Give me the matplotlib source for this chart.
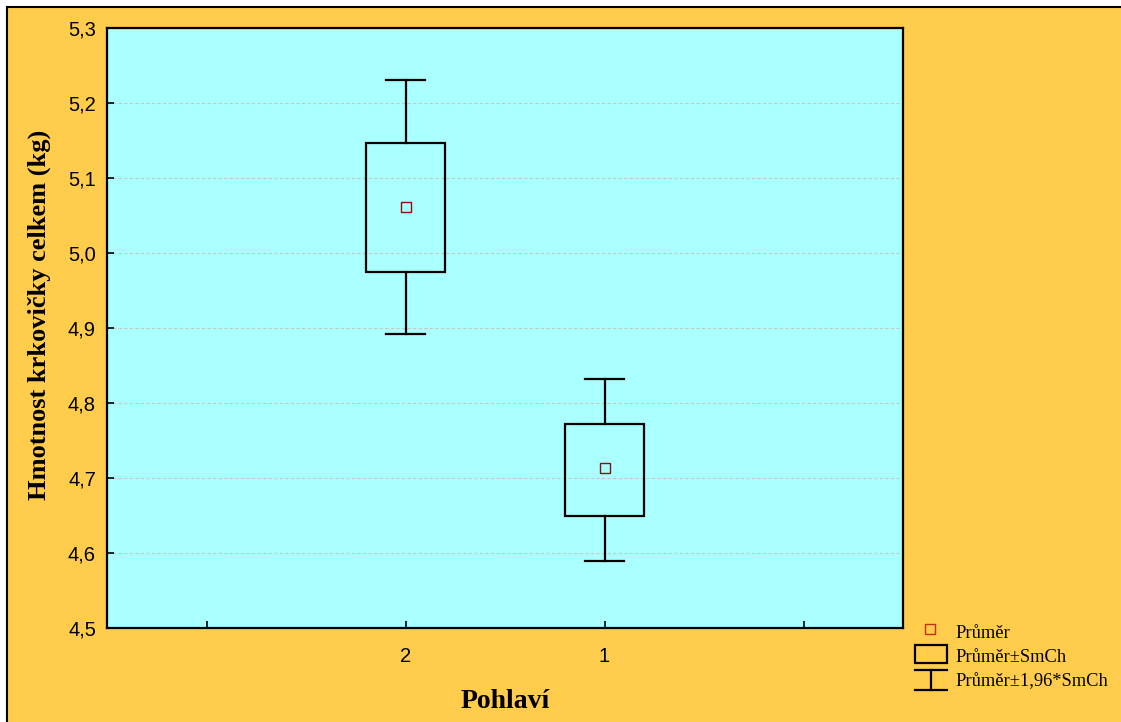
import matplotlib.pyplot as plt
from matplotlib.patches import Rectangle
from matplotlib.lines import Line2D

# skupiny (Pohlaví) a statistiky
categories = ["2", "1"]
means = [5.061, 4.713]
se_low = [4.975, 4.649]
se_high = [5.147, 4.772]
ci_low = [4.892, 4.589]
ci_high = [5.231, 4.832]

yticks = [4.5, 4.6, 4.7, 4.8, 4.9, 5.0, 5.1, 5.2, 5.3]

W, H = 1121, 722
fig = plt.figure(figsize=(W / 100, H / 100), dpi=100)
fig.patch.set_facecolor("white")

# žluté pozadí s rámečkem
fig.patches.append(Rectangle((6.5 / W, -0.05), 1.1, (H - 6.5) / H + 0.05,
                             transform=fig.transFigure, facecolor="#FFCC4C",
                             edgecolor="black", linewidth=1.5, zorder=-10))

ax = fig.add_axes([107 / W, 1 - 628 / H, 796 / W, 600 / H])
ax.set_facecolor("#AAFFFF")

positions = [1.5, 2.5]
box_half = 0.2
cap_half = 0.1

for x, m, sl, sh, cl, ch in zip(positions, means, se_low, se_high, ci_low, ci_high):
    ax.add_patch(Rectangle((x - box_half, sl), 2 * box_half, sh - sl,
                           facecolor="none", edgecolor="black", linewidth=1.6, zorder=3))
    ax.plot([x, x], [sh, ch], color="black", linewidth=1.6, zorder=3)
    ax.plot([x, x], [sl, cl], color="black", linewidth=1.6, zorder=3)
    ax.plot([x - cap_half, x + cap_half], [ch, ch], color="black", linewidth=1.6, zorder=3)
    ax.plot([x - cap_half, x + cap_half], [cl, cl], color="black", linewidth=1.6, zorder=3)
    ax.plot(x, m, marker="s", markersize=7, markerfacecolor="#AAFFFF",
            markeredgecolor="#8B1010", markeredgewidth=1.0, linestyle="none", zorder=4)

ax.set_xlim(0, 4)
ax.set_ylim(4.5, 5.3)
ax.set_xticks([0.5, 1.5, 2.5, 3.5])
ax.set_xticklabels([""] + categories + [""])
ax.set_yticks(yticks)
ax.set_yticklabels([f"{v:.1f}".replace(".", ",") for v in yticks])
ax.tick_params(direction="in", length=5, width=1.2, labelsize=14.5)
ax.tick_params(axis="y", pad=8)
ax.tick_params(axis="x", pad=14)
for lab in ax.get_xticklabels() + ax.get_yticklabels():
    lab.set_fontfamily("Liberation Sans")
ax.yaxis.grid(True, color="#C8C8C8", linestyle=(0, (3, 2)), linewidth=0.8)
ax.set_axisbelow(True)
for s in ax.spines.values():
    s.set_linewidth(1.6)

ax.set_xlabel("Pohlaví", fontfamily="Liberation Serif", fontweight="bold",
              fontsize=20, labelpad=16)
ax.set_ylabel("Hmotnost krkovičky celkem (kg)", fontfamily="Liberation Serif",
              fontweight="bold", fontsize=19)
ax.yaxis.set_label_coords(-56 / 796, (628 - 315) / 600)

# legenda
tf = fig.transFigure
def px(x, y):
    return x / W, 1 - y / H

fig.add_artist(Line2D(*zip(px(930, 629)), marker="s", markersize=7,
                      markerfacecolor="#FFCC4C", markeredgecolor="#C03010",
                      markeredgewidth=1.0, linestyle="none", transform=tf))
bx0, by0 = px(915, 663)
fig.add_artist(Rectangle((bx0, by0), 32 / W, 18 / H, transform=tf,
                         facecolor="none", edgecolor="black", linewidth=1.6))
for seg in [((915, 670), (947, 670)), ((915, 690), (947, 690)), ((931, 670), (931, 690))]:
    (x0, y0), (x1, y1) = px(*seg[0]), px(*seg[1])
    fig.add_artist(Line2D([x0, x1], [y0, y1], color="black", linewidth=1.6, transform=tf))

legend_labels = ["Průměr", "Průměr±SmCh", "Průměr±1,96*SmCh"]
for lab, y in zip(legend_labels, [633, 657, 682]):
    fig.text(955 / W, 1 - y / H, lab, fontfamily="Liberation Serif", fontsize=13.3,
             va="center", ha="left")

fig.savefig("out.png", dpi=100, facecolor=fig.get_facecolor())
